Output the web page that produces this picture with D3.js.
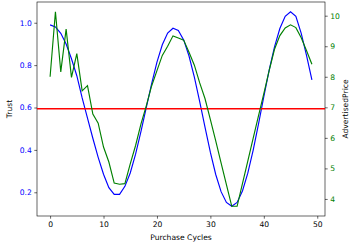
<!DOCTYPE html>
<html>
<head>
<meta charset="utf-8">
<script src="https://cdn.jsdelivr.net/npm/d3@7"></script>
<style>
  body { margin: 0; background: #fff; }
  text { font-family: "DejaVu Sans", sans-serif; }
</style>
</head>
<body>
<div class="chart"></div>
<script>
var svgWidth = 350;
var svgHeight = 248;

var margin = {
  top: 2,
  right: 25,
  bottom: 32,
  left: 37
};

var width = svgWidth - margin.left - margin.right;
var height = svgHeight - margin.top - margin.bottom;

// data
var cycles = d3.range(50);
var trust = [0.99, 0.98, 0.95, 0.90, 0.83, 0.75, 0.645, 0.55, 0.455, 0.365,
  0.285, 0.222, 0.19, 0.19, 0.228, 0.291, 0.38, 0.486, 0.6, 0.712,
  0.814, 0.896, 0.951, 0.974, 0.964, 0.919, 0.843, 0.743, 0.628, 0.506,
  0.388, 0.284, 0.203, 0.152, 0.134, 0.152, 0.206, 0.29, 0.398, 0.522,
  0.651, 0.776, 0.886, 0.973, 1.03, 1.052, 1.03, 0.95, 0.845, 0.73];
var price = [8.0, 10.13, 8.16, 9.56, 7.98, 8.76, 7.54, 7.71, 6.78, 6.48,
  5.70, 5.21, 4.52, 4.48, 4.50, 5.15, 5.75, 6.45, 7.05, 7.7,
  8.2, 8.7, 9.0, 9.34, 9.27, 9.2, 8.8, 8.38, 7.8, 7.28,
  6.6, 5.9, 5.18, 4.47, 3.76, 3.76, 4.5, 5.24, 5.98, 6.72,
  7.45, 8.2, 8.9, 9.35, 9.6, 9.70, 9.61, 9.28, 8.85, 8.41];
var threshold = 0.6;

var xTicks = [0, 10, 20, 30, 40, 50];
var trustTicks = [0.2, 0.4, 0.6, 0.8, 1.0];
var priceTicks = [4, 5, 6, 7, 8, 9, 10];

// matplotlib style 5% padding
function padded(arr) {
  var lo = d3.min(arr), hi = d3.max(arr);
  var m = (hi - lo) * 0.05;
  return [lo - m, hi + m];
}

var svg = d3.select(".chart")
  .append("svg")
  .attr("width", svgWidth)
  .attr("height", svgHeight);

var g = svg.append("g")
  .attr("transform", "translate(" + margin.left + "," + margin.top + ")");

var xScale = d3.scaleLinear()
  .domain(padded(cycles))
  .range([0, width]);

var yLeft = d3.scaleLinear()
  .domain(padded(trust))
  .range([height, 0]);

var yRight = d3.scaleLinear()
  .domain(padded(price))
  .range([height, 0]);

var fontSize = 7.6;

// axes
var xAxis = g.append("g")
  .attr("transform", "translate(0," + height + ")")
  .call(d3.axisBottom(xScale).tickValues(xTicks).tickSize(2.7).tickPadding(2.5)
    .tickFormat(d3.format("d")));

var leftAxis = g.append("g")
  .call(d3.axisLeft(yLeft).tickValues(trustTicks).tickSize(2.7).tickPadding(2.5)
    .tickFormat(d3.format(".1f")));

var rightAxis = g.append("g")
  .attr("transform", "translate(" + width + ",0)")
  .call(d3.axisRight(yRight).tickValues(priceTicks).tickSize(2.7).tickPadding(2.5)
    .tickFormat(d3.format("d")));

[xAxis, leftAxis, rightAxis].forEach(function(a) {
  a.select(".domain").remove();
  a.selectAll(".tick line").attr("stroke", "#000").attr("stroke-width", 0.6);
  a.selectAll(".tick text")
    .attr("font-size", fontSize)
    .attr("font-family", "DejaVu Sans");
});
xAxis.selectAll(".tick text").attr("fill", "#000");
leftAxis.selectAll(".tick text").attr("fill", "blue");
rightAxis.selectAll(".tick text").attr("fill", "green");

// frame
g.append("rect")
  .attr("x", 0)
  .attr("y", 0)
  .attr("width", width)
  .attr("height", height)
  .attr("fill", "none")
  .attr("stroke", "#000")
  .attr("stroke-width", 0.6);

var plot = g.append("g");

var trustLine = d3.line()
  .x(function(d, i) { return xScale(cycles[i]); })
  .y(function(d) { return yLeft(d); });

var priceLine = d3.line()
  .x(function(d, i) { return xScale(cycles[i]); })
  .y(function(d) { return yRight(d); });

plot.append("path")
  .datum(trust)
  .attr("d", trustLine)
  .attr("fill", "none")
  .attr("stroke", "blue")
  .attr("stroke-width", 1.15);

// threshold line, snapped to the pixel grid so it stays bright red
var ty = Math.round(yLeft(threshold) + margin.top) - margin.top;
plot.append("rect")
  .attr("x", 0)
  .attr("y", ty)
  .attr("width", width)
  .attr("height", 1.5)
  .style("fill", "#ff0000")
  .style("stroke", "none");

plot.append("path")
  .datum(price)
  .attr("d", priceLine)
  .attr("fill", "none")
  .attr("stroke", "green")
  .attr("stroke-width", 1.15);

// labels
svg.append("text")
  .text("Purchase Cycles")
  .attr("x", margin.left + width / 2)
  .attr("y", 240)
  .attr("text-anchor", "middle")
  .attr("font-size", fontSize)
  .attr("fill", "#000");

svg.append("text")
  .text("Trust")
  .attr("transform", "translate(12," + (margin.top + height / 2) + ") rotate(-90)")
  .attr("text-anchor", "middle")
  .attr("font-size", fontSize)
  .attr("fill", "#000");

svg.append("text")
  .text("AdvertisedPrice")
  .attr("transform", "translate(348," + (margin.top + height / 2) + ") rotate(-90)")
  .attr("text-anchor", "middle")
  .attr("font-size", fontSize)
  .attr("fill", "#000");
</script>
</body>
</html>
